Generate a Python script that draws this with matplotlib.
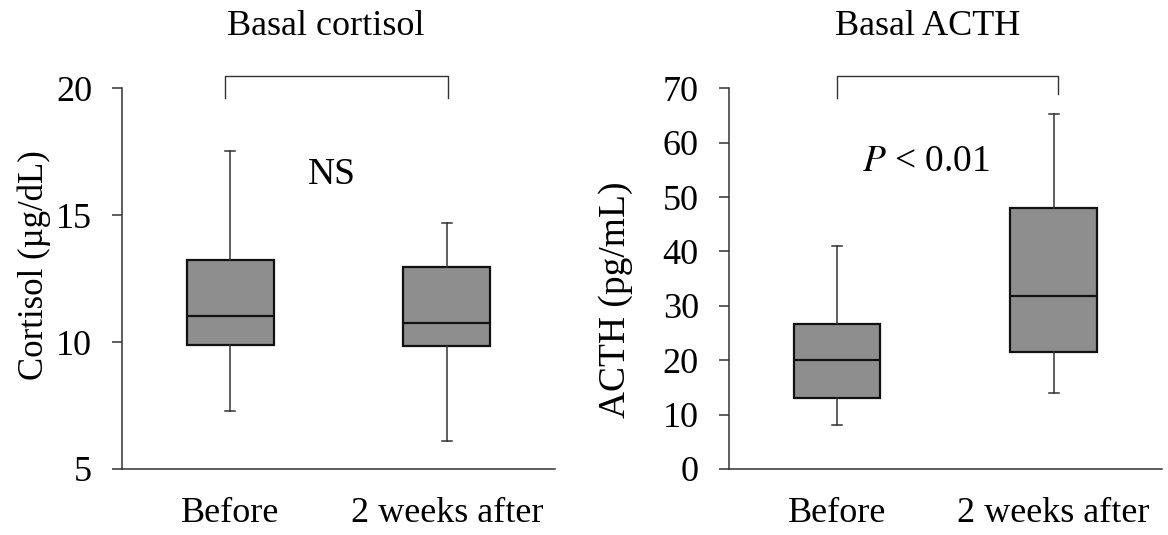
import matplotlib.pyplot as plt

plt.rcParams['font.family'] = ['Liberation Serif', 'DejaVu Serif']
plt.rcParams['mathtext.fontset'] = 'stix'

# box statistics
groups = ['Before', '2 weeks after']

cort_low = [7.3, 6.1]
cort_q1 = [9.88, 9.84]
cort_med = [11.04, 10.76]
cort_q3 = [13.24, 12.95]
cort_high = [17.53, 14.71]

acth_low = [8.1, 14.0]
acth_q1 = [13.0, 21.6]
acth_med = [20.1, 31.75]
acth_q3 = [26.6, 47.9]
acth_high = [41.05, 65.2]


def make_stats(low, q1, med, q3, high):
    stats = []
    for i in range(len(groups)):
        stats.append({'whislo': low[i], 'q1': q1[i], 'med': med[i],
                      'q3': q3[i], 'whishi': high[i], 'fliers': []})
    return stats


def draw_panel(ax, stats, ylim, yticks, ylabel, label_size, title, title_x,
               label_y, label_x, bracket, note, note_xy):
    ax.bxp(stats, positions=[1, 2], widths=0.4, patch_artist=True,
           showfliers=False, capwidths=0.045,
           boxprops=dict(facecolor='#8e8e8e', edgecolor='#111111', linewidth=1.6),
           medianprops=dict(color='#111111', linewidth=1.6),
           whiskerprops=dict(color='#333333', linewidth=1.1),
           capprops=dict(color='#333333', linewidth=1.1))
    ax.set_xlim(0.5, 2.5)
    ax.set_ylim(*ylim)
    ax.set_yticks(yticks)
    ax.set_xticks([1, 2])
    ax.set_xticklabels(groups)
    for s in ['top', 'right']:
        ax.spines[s].set_visible(False)
    for s in ['left', 'bottom']:
        ax.spines[s].set_color('#333333')
        ax.spines[s].set_linewidth(1.1)
    ax.tick_params(axis='y', direction='out', length=7.5, width=1.1,
                   color='#333333', labelsize=26, pad=14)
    ax.tick_params(axis='x', length=0, labelsize=26, pad=20)
    ax.set_ylabel(ylabel, fontsize=label_size)
    ax.yaxis.set_label_coords(label_x, label_y)
    ax.text(title_x, 1.161, title, transform=ax.transAxes, fontsize=26,
            ha='center', va='center')
    bx0, bx1, by_top, by0, by1 = bracket
    ax.plot([bx0, bx0, bx1, bx1], [by0, by_top, by_top, by1],
            color='#333333', linewidth=1.0, clip_on=False)
    ax.text(note_xy[0], note_xy[1], note, fontsize=27, ha='center', va='center')


fig = plt.figure(figsize=(11.68, 5.35), dpi=100)
ax1 = fig.add_axes([0.1045, 0.1234, 0.3707, 0.7116])
ax2 = fig.add_axes([0.6239, 0.1234, 0.371, 0.7116])

draw_panel(ax1, make_stats(cort_low, cort_q1, cort_med, cort_q3, cort_high),
           (5, 20), [5, 10, 15, 20], 'Cortisol (µg/dL)', 25, 'Basal cortisol', 0.47,
           0.535, -0.165, (0.975, 2.006, 20.5, 19.62, 19.62), 'NS', (1.47, 16.6))

draw_panel(ax2, make_stats(acth_low, acth_q1, acth_med, acth_q3, acth_high),
           (0, 70), list(range(0, 71, 10)), 'ACTH (pg/mL)', 27, 'Basal ACTH', 0.46,
           0.445, -0.22, (1.0, 2.02, 72.3, 68.2, 69.0), r'$P$ < 0.01', (1.41, 56.4))

fig.savefig('out.png', dpi=100)
